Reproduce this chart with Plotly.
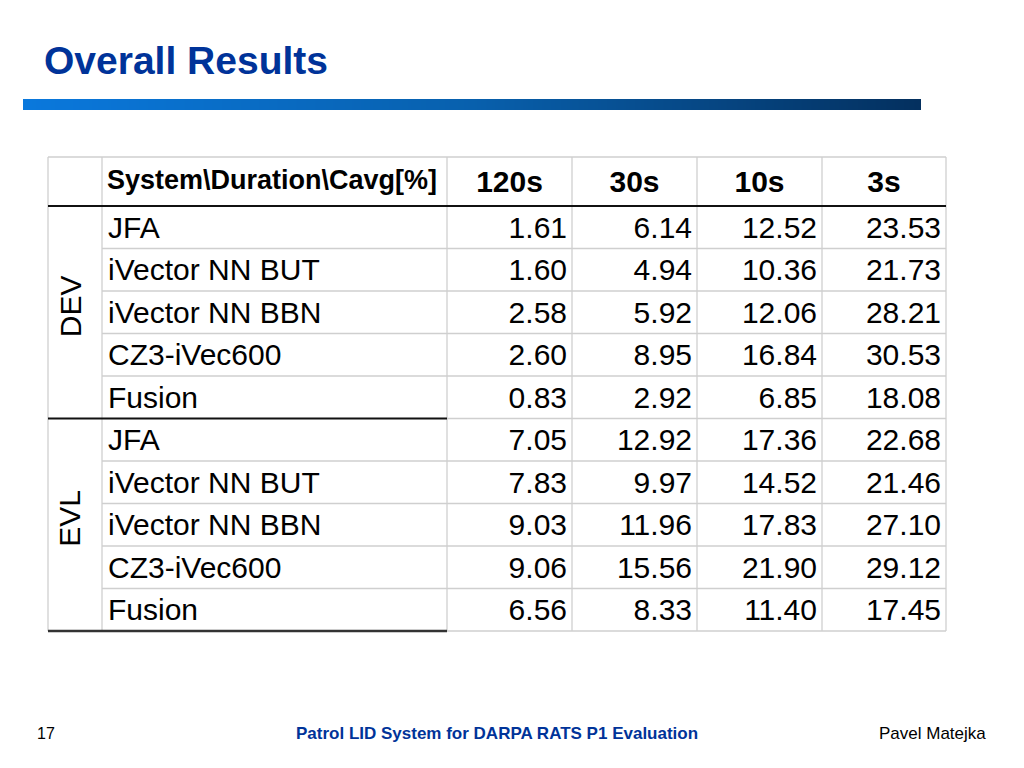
import plotly.graph_objects as go

# ---- data ----
durations = ["120s", "30s", "10s", "3s"]
systems = ["JFA", "iVector NN BUT", "iVector NN BBN", "CZ3-iVec600", "Fusion"]
eval_sets = ["DEV", "EVL"]

# Cavg[%] per duration, rows = DEV systems then EVL systems
cavg_120s = [1.61, 1.60, 2.58, 2.60, 0.83, 7.05, 7.83, 9.03, 9.06, 6.56]
cavg_30s = [6.14, 4.94, 5.92, 8.95, 2.92, 12.92, 9.97, 11.96, 15.56, 8.33]
cavg_10s = [12.52, 10.36, 12.06, 16.84, 6.85, 17.36, 14.52, 17.83, 21.90, 11.40]
cavg_3s = [23.53, 21.73, 28.21, 30.53, 18.08, 22.68, 21.46, 27.10, 29.12, 17.45]
cavg_cols = [cavg_120s, cavg_30s, cavg_10s, cavg_3s]

# ---- table layout (page pixels) ----
col_edges = [48, 102, 447, 572, 697, 822, 946]
table_top = 157
header_bottom = 206
row_h = 42.5
n_rows = len(systems) * len(eval_sets)
row_centers = [header_bottom + row_h * (i + 0.5) for i in range(n_rows)]
row_edges = [header_bottom + row_h * i for i in range(n_rows + 1)]
table_bottom = row_edges[-1]

BLUE = "#003399"
GRID = "#cfcfcf"
FONT = "Liberation Sans, Arial, sans-serif"
PAGE_OFF = 8  # default body margin of the html page

fig = go.Figure()

# gradient bar under the title
n_grad = 120
bar_x0, bar_x1 = 23, 921
dx = (bar_x1 - bar_x0) / n_grad
fig.add_trace(go.Heatmap(
    z=[list(range(n_grad))],
    x0=bar_x0 + dx / 2, dx=dx,
    y0=104.5, dy=11,
    colorscale=[[0, "#0a78dc"], [0.5, "#0860ad"], [1, "#04305f"]],
    showscale=False, hoverinfo="skip", zsmooth="best",
))

# grid lines
shapes = []
def line(x0, y0, x1, y1, color=GRID, width=1.3):
    shapes.append(dict(type="line", xref="x", yref="y", x0=x0, y0=y0, x1=x1, y1=y1,
                       line=dict(color=color, width=width)))

line(col_edges[0], table_top, col_edges[-1], table_top)
for xe in col_edges:
    line(xe, table_top, xe, table_bottom)
for i, ye in enumerate(row_edges[1:], start=1):
    if i % len(systems) == 0:
        continue
    line(col_edges[1], ye, col_edges[-1], ye)
# group separators
line(col_edges[2], row_edges[len(systems)], col_edges[-1], row_edges[len(systems)])
line(col_edges[2], table_bottom, col_edges[-1], table_bottom)
line(col_edges[0], header_bottom, col_edges[-1], header_bottom, "#111111", 2)
line(col_edges[0], row_edges[len(systems)], col_edges[2], row_edges[len(systems)], "#111111", 2)
line(col_edges[0], table_bottom, col_edges[2], table_bottom, "#333333", 2.5)

# header
fig.add_trace(go.Scatter(
    x=[col_edges[1] + 5], y=[182], mode="text",
    text=["System\\Duration\\Cavg[%]"], textposition="middle right",
    textfont=dict(family=FONT, size=27, color="black", weight="bold"),
    hoverinfo="skip",
))
fig.add_trace(go.Scatter(
    x=[(col_edges[i + 2] + col_edges[i + 3]) / 2 for i in range(len(durations))],
    y=[184] * len(durations), mode="text", text=durations,
    textposition="middle center",
    textfont=dict(family=FONT, size=30, color="black", weight="bold"),
    hoverinfo="skip",
))

# system names
fig.add_trace(go.Scatter(
    x=[col_edges[1] + 6] * n_rows, y=[y + 3 for y in row_centers], mode="text",
    text=systems * len(eval_sets), textposition="middle right",
    textfont=dict(family=FONT, size=30, color="black"),
    hoverinfo="skip",
))

# values
for j, vals in enumerate(cavg_cols):
    fig.add_trace(go.Scatter(
        x=[col_edges[j + 3] - 5] * n_rows, y=[y + 3 for y in row_centers], mode="text",
        text=[f"{v:.2f}" for v in vals], textposition="middle left",
        textfont=dict(family=FONT, size=30, color="black"),
        hoverinfo="skip",
    ))

annotations = []
# group labels (rotated)
for g, name in enumerate(eval_sets):
    y0 = row_edges[g * len(systems)]
    y1 = row_edges[(g + 1) * len(systems)]
    annotations.append(dict(
        x=70, y=(y0 + y1) / 2 - 6, xref="x", yref="y",
        text=name, textangle=-90, showarrow=False,
        font=dict(family=FONT, size=30, color="black"),
    ))

# title and footer
annotations += [
    dict(x=42, y=60, xref="x", yref="y", text="<b>Overall Results</b>", showarrow=False,
         xanchor="left", font=dict(family=FONT, size=39, color=BLUE)),
    dict(x=35, y=733, xref="x", yref="y", text="17", showarrow=False,
         xanchor="left", font=dict(family=FONT, size=16, color="black")),
    dict(x=497, y=733, xref="x", yref="y",
         text="<b>Patrol LID System for DARPA RATS P1 Evaluation</b>", showarrow=False,
         xanchor="center", font=dict(family=FONT, size=17, color=BLUE)),
    dict(x=988, y=733, xref="x", yref="y", text="Pavel Matejka", showarrow=False,
         xanchor="right", font=dict(family=FONT, size=17, color="black")),
]

fig.update_layout(
    width=1024 - PAGE_OFF, height=768 - PAGE_OFF,
    margin=dict(l=0, r=0, t=0, b=0),
    paper_bgcolor="white", plot_bgcolor="white",
    showlegend=False,
    xaxis=dict(range=[PAGE_OFF, 1024], visible=False, fixedrange=True),
    yaxis=dict(range=[768, PAGE_OFF], visible=False, fixedrange=True),
    shapes=shapes,
    annotations=annotations,
)

fig.write_html("out.html")
